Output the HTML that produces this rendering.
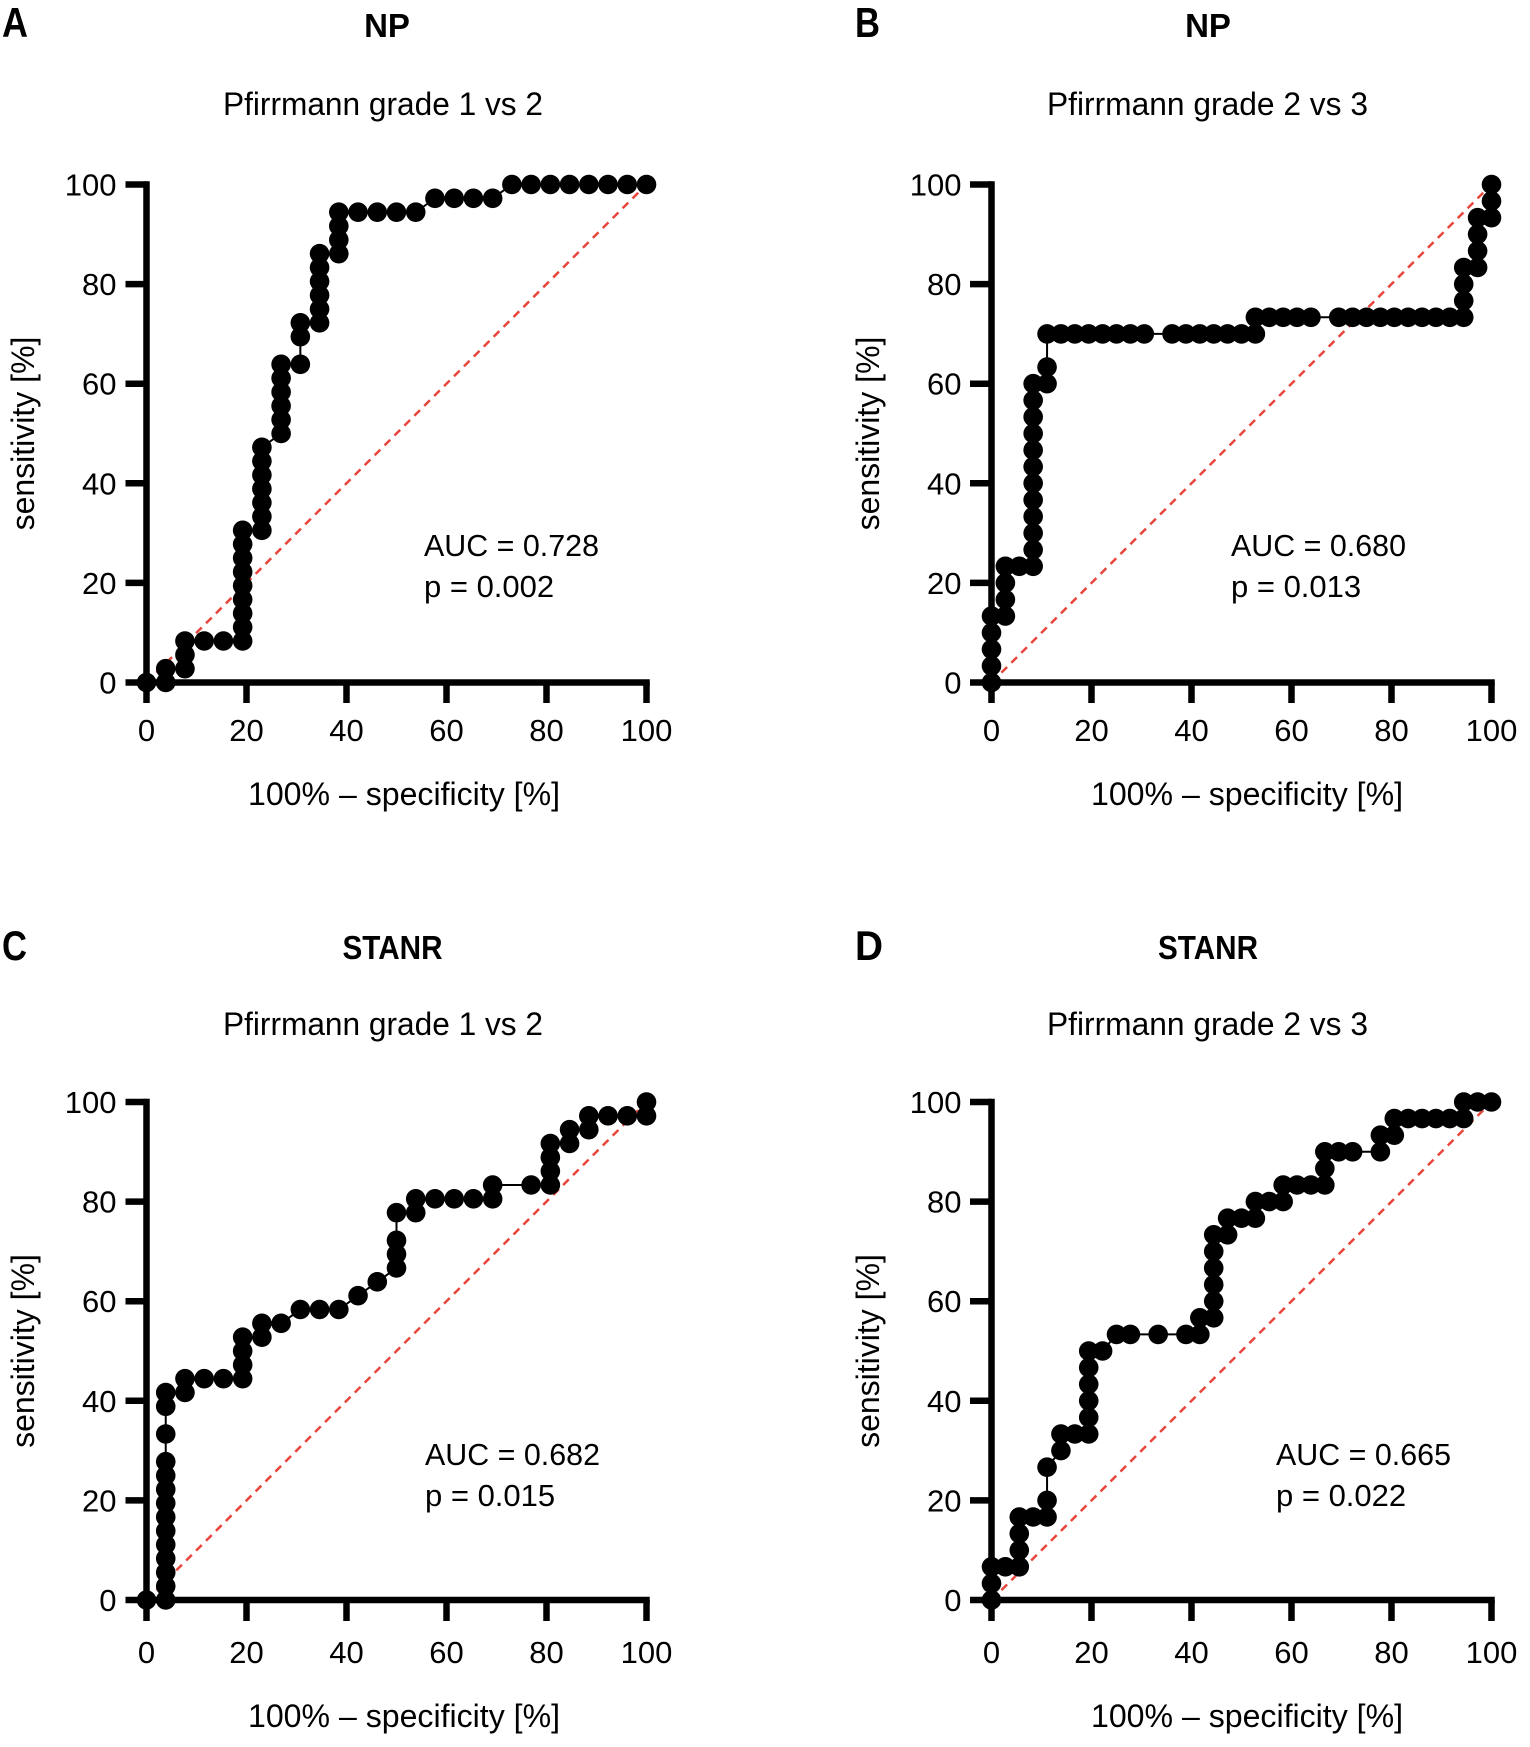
<!DOCTYPE html>
<html><head><meta charset="utf-8"><style>
html,body{margin:0;padding:0;background:#fff;}
svg{display:block;}
text{font-family:"Liberation Sans",Arial,sans-serif;fill:#000;}
.b{font-weight:bold;}
.t{font-size:31px;}
.l{font-size:32px;}
.ax{stroke:#000;stroke-width:6.5;fill:none;}
.diag{stroke:#e8453c;stroke-width:2.5;stroke-dasharray:8 6;fill:none;}
.roc{fill:none;stroke:#000;stroke-width:2;}
</style></head><body>
<svg width="1530" height="1747" viewBox="0 0 1530 1747" xmlns="http://www.w3.org/2000/svg">
<defs>
<marker id="mA" markerUnits="userSpaceOnUse" markerWidth="2" markerHeight="2" refX="0" refY="0" overflow="visible" orient="0"><ellipse cx="0" cy="0" rx="0.5096" ry="0.7084" fill="#000"/></marker>
<marker id="mB" markerUnits="userSpaceOnUse" markerWidth="2" markerHeight="2" refX="0" refY="0" overflow="visible" orient="0"><ellipse cx="0" cy="0" rx="0.7056" ry="0.5904" fill="#000"/></marker>
</defs>
<rect width="1530" height="1747" fill="#fff"/>

<!-- ===== Panel A ===== -->
<text x="2" y="37" class="b" font-size="42" textLength="26" lengthAdjust="spacingAndGlyphs">A</text>
<text x="387" y="37" class="b" font-size="33" text-anchor="middle">NP</text>
<text x="223" y="115" class="l" textLength="320" lengthAdjust="spacingAndGlyphs">Pfirrmann grade 1 vs 2</text>
<text transform="translate(34,433.5) rotate(-90)" class="l" text-anchor="middle">sensitivity [%]</text>
<text x="248" y="805" class="l" textLength="312" lengthAdjust="spacingAndGlyphs">100% – specificity [%]</text>
<line class="diag" x1="146.5" y1="682.5" x2="646.5" y2="184.5"/>
<g class="ax">
<line x1="125.5" y1="682.5" x2="649.75" y2="682.5"/>
<line x1="146.5" y1="703" x2="146.5" y2="181.25"/>
<line x1="246.5" y1="682.5" x2="246.5" y2="703"/><line x1="346.5" y1="682.5" x2="346.5" y2="703"/><line x1="446.5" y1="682.5" x2="446.5" y2="703"/><line x1="546.5" y1="682.5" x2="546.5" y2="703"/><line x1="646.5" y1="682.5" x2="646.5" y2="703"/>
<line x1="125.5" y1="582.9" x2="146.5" y2="582.9"/><line x1="125.5" y1="483.3" x2="146.5" y2="483.3"/><line x1="125.5" y1="383.7" x2="146.5" y2="383.7"/><line x1="125.5" y1="284.1" x2="146.5" y2="284.1"/><line x1="125.5" y1="184.5" x2="146.5" y2="184.5"/>
</g>
<g class="t" text-anchor="middle">
<text x="146.5" y="741">0</text><text x="246.5" y="741">20</text><text x="346.5" y="741">40</text><text x="446.5" y="741">60</text><text x="546.5" y="741">80</text><text x="646.5" y="741">100</text>
</g>
<g class="t" text-anchor="end">
<text x="116.5" y="693.5">0</text><text x="116.5" y="593.9">20</text><text x="116.5" y="494.3">40</text><text x="116.5" y="394.7">60</text><text x="116.5" y="295.1">80</text><text x="116.5" y="195.5">100</text>
</g>
<text x="424" y="556" class="t" textLength="175" lengthAdjust="spacingAndGlyphs">AUC = 0.728</text>
<text x="424" y="597" class="t">p = 0.002</text>
<g transform="translate(146.5,682.5) scale(19.2308,-13.8333)">
<polyline class="roc" vector-effect="non-scaling-stroke" marker-start="url(#mA)" marker-mid="url(#mA)" marker-end="url(#mA)" points="0,0 1,0 1,1 2,1 2,2 2,3 3,3 4,3 5,3 5,4 5,5 5,6 5,7 5,8 5,9 5,10 5,11 6,11 6,12 6,13 6,14 6,15 6,16 6,17 7,18 7,19 7,20 7,21 7,22 7,23 8,23 8,25 8,26 9,26 9,27 9,28 9,29 9,30 9,31 10,31 10,32 10,33 10,34 11,34 12,34 13,34 14,34 15,35 16,35 17,35 18,35 19,36 20,36 21,36 22,36 23,36 24,36 25,36 26,36"/>
</g>

<!-- ===== Panel B ===== -->
<text x="855" y="37" class="b" font-size="42" textLength="25" lengthAdjust="spacingAndGlyphs">B</text>
<text x="1208" y="37" class="b" font-size="33" text-anchor="middle">NP</text>
<text x="1047" y="115" class="l" textLength="321" lengthAdjust="spacingAndGlyphs">Pfirrmann grade 2 vs 3</text>
<text transform="translate(879,433.5) rotate(-90)" class="l" text-anchor="middle">sensitivity [%]</text>
<text x="1091" y="805" class="l" textLength="312" lengthAdjust="spacingAndGlyphs">100% – specificity [%]</text>
<line class="diag" x1="991.5" y1="682.5" x2="1491.5" y2="184.5"/>
<g class="ax">
<line x1="970" y1="682.5" x2="1494.75" y2="682.5"/>
<line x1="991.5" y1="703" x2="991.5" y2="181.25"/>
<line x1="1091.5" y1="682.5" x2="1091.5" y2="703"/><line x1="1191.5" y1="682.5" x2="1191.5" y2="703"/><line x1="1291.5" y1="682.5" x2="1291.5" y2="703"/><line x1="1391.5" y1="682.5" x2="1391.5" y2="703"/><line x1="1491.5" y1="682.5" x2="1491.5" y2="703"/>
<line x1="970" y1="582.9" x2="991.5" y2="582.9"/><line x1="970" y1="483.3" x2="991.5" y2="483.3"/><line x1="970" y1="383.7" x2="991.5" y2="383.7"/><line x1="970" y1="284.1" x2="991.5" y2="284.1"/><line x1="970" y1="184.5" x2="991.5" y2="184.5"/>
</g>
<g class="t" text-anchor="middle">
<text x="991.5" y="741">0</text><text x="1091.5" y="741">20</text><text x="1191.5" y="741">40</text><text x="1291.5" y="741">60</text><text x="1391.5" y="741">80</text><text x="1491.5" y="741">100</text>
</g>
<g class="t" text-anchor="end">
<text x="961.5" y="693.5">0</text><text x="961.5" y="593.9">20</text><text x="961.5" y="494.3">40</text><text x="961.5" y="394.7">60</text><text x="961.5" y="295.1">80</text><text x="961.5" y="195.5">100</text>
</g>
<text x="1231" y="556" class="t" textLength="175" lengthAdjust="spacingAndGlyphs">AUC = 0.680</text>
<text x="1231" y="597" class="t">p = 0.013</text>
<g transform="translate(991.5,682.5) scale(13.8889,-16.6)">
<polyline class="roc" vector-effect="non-scaling-stroke" marker-start="url(#mB)" marker-mid="url(#mB)" marker-end="url(#mB)" points="0,0 0,1 0,2 0,3 0,4 1,4 1,5 1,6 1,7 2,7 3,7 3,8 3,9 3,10 3,11 3,12 3,13 3,14 3,15 3,16 3,17 3,18 4,18 4,19 4,21 5,21 6,21 7,21 8,21 9,21 10,21 11,21 13,21 14,21 15,21 16,21 17,21 18,21 19,21 19,22 20,22 21,22 22,22 23,22 25,22 26,22 27,22 28,22 29,22 30,22 31,22 32,22 33,22 34,22 34,23 34,24 34,25 35,25 35,26 35,27 35,28 36,28 36,29 36,30"/>
</g>

<!-- ===== Panel C ===== -->
<text x="2" y="960" class="b" font-size="42" textLength="25" lengthAdjust="spacingAndGlyphs">C</text>
<text x="392.5" y="959" class="b" font-size="33" text-anchor="middle" textLength="100" lengthAdjust="spacingAndGlyphs">STANR</text>
<text x="223" y="1035" class="l" textLength="320" lengthAdjust="spacingAndGlyphs">Pfirrmann grade 1 vs 2</text>
<text transform="translate(34,1351) rotate(-90)" class="l" text-anchor="middle">sensitivity [%]</text>
<text x="248" y="1727" class="l" textLength="312" lengthAdjust="spacingAndGlyphs">100% – specificity [%]</text>
<line class="diag" x1="146.5" y1="1600" x2="646.5" y2="1102"/>
<g class="ax">
<line x1="125.5" y1="1600" x2="649.75" y2="1600"/>
<line x1="146.5" y1="1621" x2="146.5" y2="1098.75"/>
<line x1="246.5" y1="1600" x2="246.5" y2="1621"/><line x1="346.5" y1="1600" x2="346.5" y2="1621"/><line x1="446.5" y1="1600" x2="446.5" y2="1621"/><line x1="546.5" y1="1600" x2="546.5" y2="1621"/><line x1="646.5" y1="1600" x2="646.5" y2="1621"/>
<line x1="125.5" y1="1500.4" x2="146.5" y2="1500.4"/><line x1="125.5" y1="1400.8" x2="146.5" y2="1400.8"/><line x1="125.5" y1="1301.2" x2="146.5" y2="1301.2"/><line x1="125.5" y1="1201.6" x2="146.5" y2="1201.6"/><line x1="125.5" y1="1102" x2="146.5" y2="1102"/>
</g>
<g class="t" text-anchor="middle">
<text x="146.5" y="1663">0</text><text x="246.5" y="1663">20</text><text x="346.5" y="1663">40</text><text x="446.5" y="1663">60</text><text x="546.5" y="1663">80</text><text x="646.5" y="1663">100</text>
</g>
<g class="t" text-anchor="end">
<text x="116.5" y="1611">0</text><text x="116.5" y="1511.4">20</text><text x="116.5" y="1411.8">40</text><text x="116.5" y="1312.2">60</text><text x="116.5" y="1212.6">80</text><text x="116.5" y="1113">100</text>
</g>
<text x="425" y="1465" class="t" textLength="175" lengthAdjust="spacingAndGlyphs">AUC = 0.682</text>
<text x="425" y="1506" class="t">p = 0.015</text>
<g transform="translate(146.5,1600) scale(19.2308,-13.8333)">
<polyline class="roc" vector-effect="non-scaling-stroke" marker-start="url(#mA)" marker-mid="url(#mA)" marker-end="url(#mA)" points="0,0 1,0 1,1 1,2 1,3 1,4 1,5 1,6 1,7 1,8 1,9 1,10 1,12 1,14 1,15 2,15 2,16 3,16 4,16 5,16 5,17 5,18 5,19 6,19 6,20 7,20 8,21 9,21 10,21 11,22 12,23 13,24 13,25 13,26 13,28 14,28 14,29 15,29 16,29 17,29 18,29 18,30 20,30 21,30 21,31 21,32 21,33 22,33 22,34 23,34 23,35 24,35 25,35 26,35 26,36"/>
</g>

<!-- ===== Panel D ===== -->
<text x="855" y="960" class="b" font-size="42" textLength="28" lengthAdjust="spacingAndGlyphs">D</text>
<text x="1208" y="959" class="b" font-size="33" text-anchor="middle" textLength="100" lengthAdjust="spacingAndGlyphs">STANR</text>
<text x="1047" y="1035" class="l" textLength="321" lengthAdjust="spacingAndGlyphs">Pfirrmann grade 2 vs 3</text>
<text transform="translate(879,1351) rotate(-90)" class="l" text-anchor="middle">sensitivity [%]</text>
<text x="1091" y="1727" class="l" textLength="312" lengthAdjust="spacingAndGlyphs">100% – specificity [%]</text>
<line class="diag" x1="991.5" y1="1600" x2="1491.5" y2="1102"/>
<g class="ax">
<line x1="970" y1="1600" x2="1494.75" y2="1600"/>
<line x1="991.5" y1="1621" x2="991.5" y2="1098.75"/>
<line x1="1091.5" y1="1600" x2="1091.5" y2="1621"/><line x1="1191.5" y1="1600" x2="1191.5" y2="1621"/><line x1="1291.5" y1="1600" x2="1291.5" y2="1621"/><line x1="1391.5" y1="1600" x2="1391.5" y2="1621"/><line x1="1491.5" y1="1600" x2="1491.5" y2="1621"/>
<line x1="970" y1="1500.4" x2="991.5" y2="1500.4"/><line x1="970" y1="1400.8" x2="991.5" y2="1400.8"/><line x1="970" y1="1301.2" x2="991.5" y2="1301.2"/><line x1="970" y1="1201.6" x2="991.5" y2="1201.6"/><line x1="970" y1="1102" x2="991.5" y2="1102"/>
</g>
<g class="t" text-anchor="middle">
<text x="991.5" y="1663">0</text><text x="1091.5" y="1663">20</text><text x="1191.5" y="1663">40</text><text x="1291.5" y="1663">60</text><text x="1391.5" y="1663">80</text><text x="1491.5" y="1663">100</text>
</g>
<g class="t" text-anchor="end">
<text x="961.5" y="1611">0</text><text x="961.5" y="1511.4">20</text><text x="961.5" y="1411.8">40</text><text x="961.5" y="1312.2">60</text><text x="961.5" y="1212.6">80</text><text x="961.5" y="1113">100</text>
</g>
<text x="1276" y="1465" class="t" textLength="175" lengthAdjust="spacingAndGlyphs">AUC = 0.665</text>
<text x="1276" y="1506" class="t">p = 0.022</text>
<g transform="translate(991.5,1600) scale(13.8889,-16.6)">
<polyline class="roc" vector-effect="non-scaling-stroke" marker-start="url(#mB)" marker-mid="url(#mB)" marker-end="url(#mB)" points="0,0 0,1 0,2 1,2 2,2 2,3 2,4 2,5 3,5 4,5 4,6 4,8 5,9 5,10 6,10 7,10 7,11 7,12 7,13 7,14 7,15 8,15 9,16 10,16 12,16 14,16 15,16 15,17 16,17 16,18 16,19 16,20 16,21 16,22 17,22 17,23 18,23 19,23 19,24 20,24 21,24 21,25 22,25 23,25 24,25 24,26 24,27 25,27 26,27 28,27 28,28 29,28 29,29 30,29 31,29 32,29 33,29 34,29 34,30 35,30 36,30"/>
</g>
</svg>
</body></html>
